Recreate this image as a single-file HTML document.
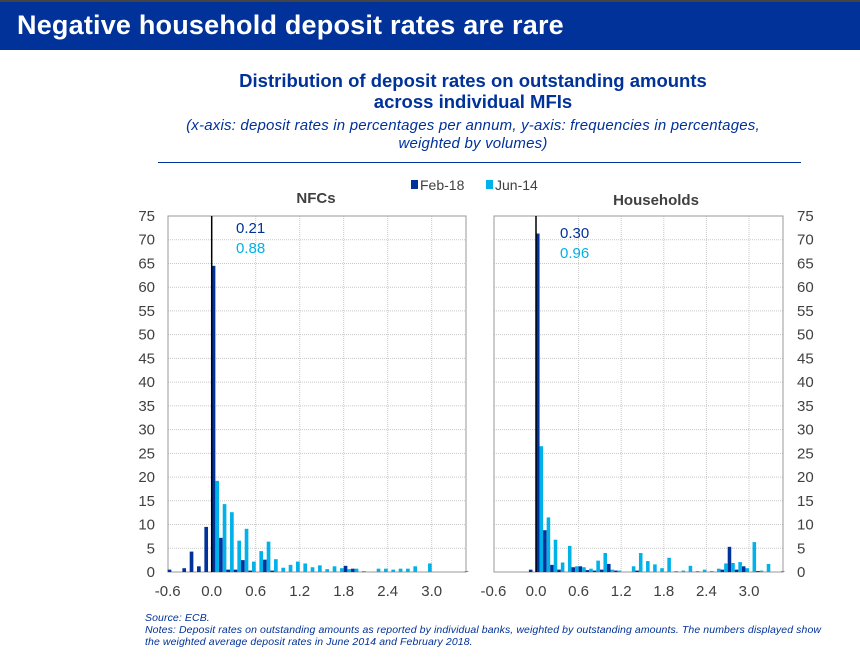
<!DOCTYPE html>
<html><head><meta charset="utf-8"><style>
body{margin:0;width:860px;height:660px;background:#fff;overflow:hidden;font-family:"Liberation Sans",sans-serif;}
#hdr{position:absolute;left:0;top:0;width:860px;height:50px;background:#003299;border-top:2px solid #444;box-sizing:border-box;}
#hdr span{position:absolute;left:17px;top:8px;color:#fff;font-weight:bold;font-size:27px;letter-spacing:0.2px;}
.t{position:absolute;left:0;width:946px;text-align:center;color:#003299;}
.note{position:absolute;left:145px;color:#003299;font-style:italic;font-size:10.5px;line-height:12px;letter-spacing:0.1px;}
</style></head><body>
<div id="hdr"><span>Negative household deposit rates are rare</span></div>
<div class="t" style="top:70px;font-weight:bold;font-size:18.5px;line-height:21px;">Distribution of deposit rates on outstanding amounts<br>across individual MFIs</div>
<div class="t" style="top:117px;font-style:italic;font-size:15px;line-height:18px;letter-spacing:0.2px;">(x-axis: deposit rates in percentages per annum, y-axis: frequencies in percentages,<br>weighted by volumes)</div>
<div style="position:absolute;left:158px;top:162px;width:643px;height:1px;background:#003299"></div>
<svg id="c" width="860" height="660" style="position:absolute;left:0;top:0"></svg>
<div class="note" style="top:612px">Source: ECB.<br>Notes: Deposit rates on outstanding amounts as reported by individual banks, weighted by outstanding amounts. The numbers displayed show<br>the weighted average deposit rates in June 2014 and February 2018.</div>
<script>
const bins=[-0.6,-0.5,-0.4,-0.3,-0.2,-0.1,0.0,0.1,0.2,0.3,0.4,0.5,0.6,0.7,0.8,0.9,1.0,1.1,1.2,1.3,1.4,1.5,1.6,1.7,1.8,1.9,2.0,2.1,2.2,2.3,2.4,2.5,2.6,2.7,2.8,2.9,3.0,3.1,3.2,3.3,3.4];
const nfcFeb=[0.5,0,0.8,4.3,1.2,9.5,64.5,7.2,0.5,0.5,2.5,0.3,0,2.6,0.3,0,0,0,0,0,0,0,0,0,1.3,0.7,0,0,0,0,0,0,0,0,0,0,0,0,0,0,0];
const nfcJun=[0,0,0,0,0,0,19.2,14.3,12.6,6.6,9.1,2.2,4.4,6.4,2.7,0.9,1.5,2.2,1.8,1.0,1.4,0.6,1.2,0.8,0.6,0.7,0.2,0,0.7,0.7,0.5,0.7,0.7,1.2,0,1.8,0,0,0,0,0.2];
const hhFeb=[0,0,0,0,0,0.5,71.3,8.8,1.5,0.5,0,1.0,1.2,0.4,0.3,0.5,1.7,0.3,0,0,0.3,0,0,0,0,0,0,0,0,0,0,0,0.5,5.3,0.5,1.2,0,0.2,0,0,0];
const hhJun=[0,0,0,0,0,0,26.5,11.5,6.8,2.0,5.5,1.2,1.0,0.7,2.4,4.0,0.5,0.3,0,1.2,4.0,2.3,1.6,0.8,3.0,0.2,0.3,1.3,0.2,0.5,0.2,0.7,1.8,1.9,2.1,0.8,6.3,0.3,1.7,0,0.2];
const yTicks=[0,5,10,15,20,25,30,35,40,45,50,55,60,65,70,75];
const xTicks=[-0.6,0.0,0.6,1.2,1.8,2.4,3.0];
const xTickLabels=["-0.6","0.0","0.6","1.2","1.8","2.4","3.0"];
const DARK="#003299",LIGHT="#00b1ea",NS="http://www.w3.org/2000/svg";
const svg=document.getElementById('c');
function mk(tag,at,parent){const e=document.createElementNS(NS,tag);for(const k in at)e.setAttribute(k,at[k]);(parent||svg).appendChild(e);return e;}
const y0=572,yTop=216;
function Y(v){return y0-(v/75)*(y0-yTop);}
function panel(name,left,right,z0,unit,feb,jun,ylabX,anchor,title,titleX,ann,annX,annY){
  const X=v=>z0+v*unit/0.6;
  const g=mk('g',{});
  
  
  yTicks.forEach(t=>{if(t>0&&t<75){const l=mk('line',{x1:left,x2:right,y1:Y(t),y2:Y(t),stroke:'#c8c8c8','stroke-width':1,'stroke-dasharray':'1,1'},g);}
    const tx=mk('text',{x:ylabX,y:Y(t)+5,'font-size':15,fill:'#404040','text-anchor':anchor},g);tx.textContent=t;});
  xTicks.forEach((t,i)=>{if(t>0){const l=mk('line',{x1:X(t),x2:X(t),y1:yTop,y2:y0,stroke:'#c8c8c8','stroke-width':1,'stroke-dasharray':'1,1'},g);}
    const tx=mk('text',{x:X(t),y:y0+24,'font-size':15,fill:'#404040','text-anchor':'middle'},g);tx.textContent=xTickLabels[i];});
  const fr=mk('rect',{x:left,y:yTop,width:right-left,height:y0-yTop,fill:'none',stroke:'#999','stroke-width':1},g);
  
  const bw=unit/12;
  bins.forEach((b,i)=>{
    if(feb[i]>0){const r=mk('rect',{x:X(b),y:Y(feb[i]),width:bw,height:y0-Y(feb[i]),fill:DARK},g);}
    if(jun[i]>0){const r=mk('rect',{x:X(b)+bw,y:Y(jun[i]),width:bw,height:y0-Y(jun[i]),fill:LIGHT},g);}
  });
  const zl=mk('line',{x1:X(0),x2:X(0),y1:yTop,y2:y0,stroke:'#000','stroke-width':1.5},g);
  
  const tt=mk('text',{x:titleX,y:title[1],'font-size':15,'font-weight':'bold',fill:'#404040','text-anchor':'middle'},g);tt.textContent=title[0];
  
  const a1=mk('text',{x:annX,y:annY,'font-size':15,fill:DARK},g);a1.textContent=ann[0];
  
  const a2=mk('text',{x:annX,y:annY+20,'font-size':15,fill:LIGHT},g);a2.textContent=ann[1];
  
}
panel('nfc',168,466,211.7,44,nfcFeb,nfcJun,155,'end',['NFCs',203],316,['0.21','0.88'],236,233);
panel('households',494,783,536,42.6,hhFeb,hhJun,797,'start',['Households',205],656,['0.30','0.96'],560,238);
const lg=mk('g',{});


mk('rect',{x:411,y:180,width:7,height:9,fill:DARK},lg);
const l1=mk('text',{x:420,y:190,'font-size':14,fill:'#404040'},lg);l1.textContent='Feb-18';

mk('rect',{x:486,y:180,width:7,height:9,fill:LIGHT},lg);
const l2=mk('text',{x:495,y:190,'font-size':14,fill:'#404040'},lg);l2.textContent='Jun-14';

</script>
</body></html>
